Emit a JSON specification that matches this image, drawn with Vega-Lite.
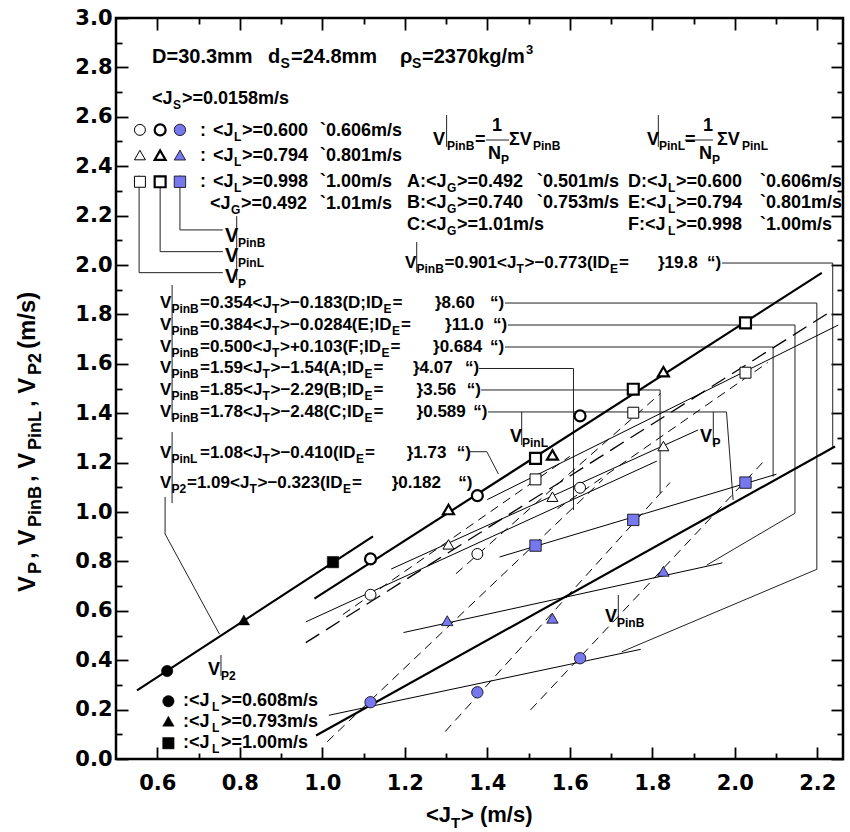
{
"$schema": "https://vega.github.io/schema/vega-lite/v6.json",
"width": 727, "height": 741, "autosize": {"type": "none"},
"padding": {"left": 116, "top": 18, "right": 7, "bottom": 73},
"background": "white",
"config": {"view": {"stroke": "black", "strokeWidth": 2.5}, "font": "Liberation Sans"},
"datasets": {
"pts": [
{"k":"P2","s":"circle","x":0.624,"y":0.356},{"k":"P2","s":"triangle","x":0.810,"y":0.563},{"k":"P2","s":"square","x":1.026,"y":0.797},
{"k":"P2","s":"circle","x":0.627,"y":0.234},{"k":"P2","s":"triangle","x":0.627,"y":0.153},{"k":"P2","s":"square","x":0.627,"y":0.064},
{"k":"PinL","s":"circle","x":1.117,"y":0.810},{"k":"PinL","s":"circle","x":1.376,"y":1.066},{"k":"PinL","s":"circle","x":1.625,"y":1.389},
{"k":"PinL","s":"triangle","x":1.306,"y":1.010},{"k":"PinL","s":"triangle","x":1.558,"y":1.231},{"k":"PinL","s":"triangle","x":1.827,"y":1.568},
{"k":"PinL","s":"square","x":1.517,"y":1.217},{"k":"PinL","s":"square","x":1.754,"y":1.497},{"k":"PinL","s":"square","x":2.026,"y":1.766},
{"k":"PinL","s":"circle","x":0.607,"y":2.547},{"k":"PinL","s":"triangle","x":0.607,"y":2.445},{"k":"PinL","s":"square","x":0.607,"y":2.337},
{"k":"P","s":"circle","x":1.117,"y":0.665},{"k":"P","s":"circle","x":1.376,"y":0.830},{"k":"P","s":"circle","x":1.625,"y":1.098},
{"k":"P","s":"triangle","x":1.306,"y":0.869},{"k":"P","s":"triangle","x":1.558,"y":1.062},{"k":"P","s":"triangle","x":1.827,"y":1.267},
{"k":"P","s":"square","x":1.517,"y":1.132},{"k":"P","s":"square","x":1.754,"y":1.402},{"k":"P","s":"square","x":2.026,"y":1.564},
{"k":"P","s":"circle","x":0.558,"y":2.547},{"k":"P","s":"triangle","x":0.558,"y":2.445},{"k":"P","s":"square","x":0.558,"y":2.337},
{"k":"PinB","s":"circle","x":1.117,"y":0.230},{"k":"PinB","s":"circle","x":1.376,"y":0.270},{"k":"PinB","s":"circle","x":1.625,"y":0.408},
{"k":"PinB","s":"triangle","x":1.303,"y":0.560},{"k":"PinB","s":"triangle","x":1.558,"y":0.570},{"k":"PinB","s":"triangle","x":1.827,"y":0.760},
{"k":"PinB","s":"square","x":1.517,"y":0.864},{"k":"PinB","s":"square","x":1.754,"y":0.968},{"k":"PinB","s":"square","x":2.026,"y":1.119},
{"k":"PinB","s":"circle","x":0.655,"y":2.547},{"k":"PinB","s":"triangle","x":0.655,"y":2.445},{"k":"PinB","s":"square","x":0.655,"y":2.337}
],
"lines": [
{"id":"P2","k":"thick","o":0,"x":0.551,"y":0.278},{"id":"P2","k":"thick","o":1,"x":1.123,"y":0.901},
{"id":"PinL","k":"thick","o":0,"x":0.981,"y":0.649},{"id":"PinL","k":"thick","o":1,"x":2.211,"y":1.968},
{"id":"PinB","k":"thick","o":0,"x":0.985,"y":0.095},{"id":"PinB","k":"thick","o":1,"x":2.243,"y":1.265},
{"id":"A","k":"dash","o":0,"x":1.012,"y":0.07},{"id":"A","k":"dash","o":1,"x":1.681,"y":1.133},
{"id":"B","k":"dash","o":0,"x":1.298,"y":0.111},{"id":"B","k":"dash","o":1,"x":1.843,"y":1.119},
{"id":"C","k":"dash","o":0,"x":1.505,"y":0.199},{"id":"C","k":"dash","o":1,"x":2.068,"y":1.201},
{"id":"PG1","k":"dash","o":0,"x":1.05,"y":0.585},{"id":"PG1","k":"dash","o":1,"x":1.60,"y":1.225},
{"id":"PG2","k":"dash","o":0,"x":1.324,"y":0.750},{"id":"PG2","k":"dash","o":1,"x":1.82,"y":1.480},
{"id":"PG3","k":"dash","o":0,"x":1.57,"y":1.013},{"id":"PG3","k":"dash","o":1,"x":2.08,"y":1.605},
{"id":"LP","k":"ldash","o":0,"x":0.960,"y":0.471},{"id":"LP","k":"ldash","o":1,"x":2.231,"y":1.81},
{"id":"D","k":"thin","o":0,"x":1.016,"y":0.177},{"id":"D","k":"thin","o":1,"x":1.772,"y":0.444},
{"id":"E","k":"thin","o":0,"x":1.197,"y":0.512},{"id":"E","k":"thin","o":1,"x":1.970,"y":0.794},
{"id":"F","k":"thin","o":0,"x":1.43,"y":0.818},{"id":"F","k":"thin","o":1,"x":2.101,"y":1.153},
{"id":"Pt","k":"thin","o":0,"x":1.167,"y":0.769},{"id":"Pt","k":"thin","o":1,"x":1.911,"y":1.332},
{"id":"Pc","k":"thin","o":0,"x":0.960,"y":0.555},{"id":"Pc","k":"thin","o":1,"x":1.811,"y":1.206},
{"id":"Ps","k":"thin","o":0,"x":1.40,"y":1.05},{"id":"Ps","k":"thin","o":1,"x":2.251,"y":1.757},
{"id":"L0","k":"lead","o":0,"x":1.969,"y":2.008},{"id":"L0","k":"lead","o":1,"x":2.2375,"y":2.008},{"id":"L0","k":"lead","o":2,"x":2.2375,"y":1.262},
{"id":"L1","k":"lead","o":0,"x":1.443,"y":1.846},{"id":"L1","k":"lead","o":1,"x":2.199,"y":1.846},{"id":"L1","k":"lead","o":2,"x":2.199,"y":0.768},{"id":"L1","k":"lead","o":3,"x":1.726,"y":0.434},
{"id":"L2","k":"lead","o":0,"x":1.450,"y":1.757},{"id":"L2","k":"lead","o":1,"x":2.146,"y":1.757},{"id":"L2","k":"lead","o":2,"x":2.146,"y":0.995},{"id":"L2","k":"lead","o":3,"x":1.932,"y":0.785},
{"id":"L3","k":"lead","o":0,"x":1.443,"y":1.668},{"id":"L3","k":"lead","o":1,"x":2.093,"y":1.668},{"id":"L3","k":"lead","o":2,"x":2.093,"y":1.143},
{"id":"L4","k":"lead","o":0,"x":1.380,"y":1.581},{"id":"L4","k":"lead","o":1,"x":1.609,"y":1.581},{"id":"L4","k":"lead","o":2,"x":1.609,"y":1.008},
{"id":"L5","k":"lead","o":0,"x":1.385,"y":1.494},{"id":"L5","k":"lead","o":1,"x":1.819,"y":1.494},{"id":"L5","k":"lead","o":2,"x":1.819,"y":1.076},
{"id":"L6","k":"lead","o":0,"x":1.402,"y":1.405},{"id":"L6","k":"lead","o":1,"x":1.980,"y":1.405},{"id":"L6","k":"lead","o":2,"x":1.996,"y":1.049},
{"id":"L7","k":"lead","o":0,"x":1.358,"y":1.244},{"id":"L7","k":"lead","o":1,"x":1.399,"y":1.244},{"id":"L7","k":"lead","o":2,"x":1.427,"y":1.154},
{"id":"L8","k":"lead","o":0,"x":0.619,"y":1.061},{"id":"L8","k":"lead","o":1,"x":0.619,"y":0.911},{"id":"L8","k":"lead","o":2,"x":0.751,"y":0.505},
{"id":"G1","k":"lead","o":0,"x":0.556,"y":2.362},{"id":"G1","k":"lead","o":1,"x":0.556,"y":1.969},{"id":"G1","k":"lead","o":2,"x":0.759,"y":1.969},
{"id":"G2","k":"lead","o":0,"x":0.607,"y":2.362},{"id":"G2","k":"lead","o":1,"x":0.607,"y":2.054},{"id":"G2","k":"lead","o":2,"x":0.759,"y":2.054},
{"id":"G3","k":"lead","o":0,"x":0.655,"y":2.362},{"id":"G3","k":"lead","o":1,"x":0.655,"y":2.142},{"id":"G3","k":"lead","o":2,"x":0.759,"y":2.142},
{"id":"B1","k":"lead","o":0,"x":0.636,"y":1.919},{"id":"B1","k":"lead","o":1,"x":0.636,"y":1.372},
{"id":"B2","k":"lead","o":0,"x":0.636,"y":1.324},{"id":"B2","k":"lead","o":1,"x":0.636,"y":1.036},
{"id":"B3","k":"lead","o":0,"x":1.3015,"y":2.607},{"id":"B3","k":"lead","o":1,"x":1.3015,"y":2.478},
{"id":"B4","k":"lead","o":0,"x":1.8147,"y":2.607},{"id":"B4","k":"lead","o":1,"x":1.8147,"y":2.478},
{"id":"B5","k":"lead","o":0,"x":1.229,"y":2.093},{"id":"B5","k":"lead","o":1,"x":1.229,"y":1.972},
{"id":"B6","k":"lead","o":0,"x":0.7926,"y":2.198},{"id":"B6","k":"lead","o":1,"x":0.7926,"y":1.939},
{"id":"B7","k":"lead","o":0,"x":1.7177,"y":0.664},{"id":"B7","k":"lead","o":1,"x":1.7177,"y":0.538},
{"id":"B8","k":"lead","o":0,"x":1.4835,"y":1.405},{"id":"B8","k":"lead","o":1,"x":1.4835,"y":1.271},
{"id":"B9","k":"lead","o":0,"x":1.948,"y":1.405},{"id":"B9","k":"lead","o":1,"x":1.948,"y":1.271},
{"id":"B10","k":"lead","o":0,"x":0.7545,"y":0.421},{"id":"B10","k":"lead","o":1,"x":0.7545,"y":0.336},
{"id":"F1","k":"lead","o":0,"x":1.397,"y":2.506},{"id":"F1","k":"lead","o":1,"x":1.453,"y":2.506},
{"id":"F2","k":"lead","o":0,"x":1.879,"y":2.506},{"id":"F2","k":"lead","o":1,"x":1.947,"y":2.506}
],
"txt": [
{"x":0.5873,"y":2.818,"t":"D=30.3mm","r":"h"},{"x":0.8685,"y":2.818,"t":"d","r":"h"},{"x":0.8988,"y":2.818,"t":"S","r":"hs"},{"x":0.9242,"y":2.818,"t":"=24.8mm","r":"h"},{"x":1.1885,"y":2.818,"t":"ρ","r":"h"},{"x":1.2176,"y":2.818,"t":"S","r":"hs"},{"x":1.2418,"y":2.818,"t":"=2370kg/m","r":"h"},{"x":1.4939,"y":2.818,"t":"3","r":"hu"},
{"x":0.5873,"y":2.652,"t":"<J","r":"m"},{"x":0.6382,"y":2.652,"t":"S","r":"s"},{"x":0.66,"y":2.652,"t":">=0.0158m/s","r":"m"},
{"x":0.7036,"y":2.522,"t":":","r":"m"},{"x":0.7352,"y":2.522,"t":"<J","r":"m"},{"x":0.786,"y":2.522,"t":"L","r":"s"},{"x":0.8055,"y":2.522,"t":">=0.600","r":"m"},{"x":0.9945,"y":2.522,"t":"`0.606m/s","r":"m"},
{"x":0.7036,"y":2.421,"t":":","r":"m"},{"x":0.7352,"y":2.421,"t":"<J","r":"m"},{"x":0.786,"y":2.421,"t":"L","r":"s"},{"x":0.8055,"y":2.421,"t":">=0.794","r":"m"},{"x":0.9945,"y":2.421,"t":"`0.801m/s","r":"m"},
{"x":0.7036,"y":2.316,"t":":","r":"m"},{"x":0.7352,"y":2.316,"t":"<J","r":"m"},{"x":0.786,"y":2.316,"t":"L","r":"s"},{"x":0.8055,"y":2.316,"t":">=0.998","r":"m"},{"x":0.9945,"y":2.316,"t":"`1.00m/s","r":"m"},
{"x":0.7279,"y":2.227,"t":"<J","r":"m"},{"x":0.7788,"y":2.227,"t":"G","r":"s"},{"x":0.803,"y":2.227,"t":">=0.492","r":"m"},{"x":0.9945,"y":2.227,"t":"`1.01m/s","r":"m"},
{"x":1.2055,"y":2.316,"t":"A:<J","r":"m"},{"x":1.3024,"y":2.316,"t":"G","r":"s"},{"x":1.3267,"y":2.316,"t":">=0.492","r":"m"},{"x":1.5206,"y":2.316,"t":"`0.501m/s","r":"m"},
{"x":1.7412,"y":2.316,"t":"D:<J","r":"m"},{"x":1.838,"y":2.316,"t":"L","r":"s"},{"x":1.8576,"y":2.316,"t":">=0.600","r":"m"},{"x":2.0612,"y":2.316,"t":"`0.606m/s","r":"m"},
{"x":1.2055,"y":2.231,"t":"B:<J","r":"m"},{"x":1.3024,"y":2.231,"t":"G","r":"s"},{"x":1.3267,"y":2.231,"t":">=0.740","r":"m"},{"x":1.5206,"y":2.231,"t":"`0.753m/s","r":"m"},
{"x":1.7412,"y":2.231,"t":"E:<J","r":"m"},{"x":1.838,"y":2.231,"t":"L","r":"s"},{"x":1.8576,"y":2.231,"t":">=0.794","r":"m"},{"x":2.0612,"y":2.231,"t":"`0.801m/s","r":"m"},
{"x":1.2055,"y":2.142,"t":"C:<J","r":"m"},{"x":1.3024,"y":2.142,"t":"G","r":"s"},{"x":1.3267,"y":2.142,"t":">=1.01m/s","r":"m"},
{"x":1.7412,"y":2.142,"t":"F:<J","r":"m"},{"x":1.838,"y":2.142,"t":"L","r":"s"},{"x":1.8576,"y":2.142,"t":">=0.998","r":"m"},{"x":2.0612,"y":2.142,"t":"`1.00m/s","r":"m"},
{"x":1.2685,"y":2.486,"t":"V","r":"m"},{"x":1.3024,"y":2.486,"t":"PinB","r":"s"},{"x":1.3703,"y":2.486,"t":"=","r":"m"},{"x":1.4115,"y":2.543,"t":"1","r":"m"},{"x":1.4018,"y":2.429,"t":"N","r":"m"},{"x":1.4333,"y":2.429,"t":"P","r":"s"},{"x":1.4527,"y":2.486,"t":"ΣV","r":"m"},{"x":1.5109,"y":2.486,"t":"PinB","r":"s"},
{"x":1.7873,"y":2.486,"t":"V","r":"m"},{"x":1.8164,"y":2.486,"t":"PinL","r":"s"},{"x":1.8794,"y":2.486,"t":"=","r":"m"},{"x":1.9230,"y":2.543,"t":"1","r":"m"},{"x":1.9133,"y":2.429,"t":"N","r":"m"},{"x":1.9448,"y":2.429,"t":"P","r":"s"},{"x":1.9570,"y":2.486,"t":"ΣV","r":"m"},{"x":2.0176,"y":2.486,"t":"PinL","r":"s"},
{"x":1.2006,"y":1.988,"t":"V","r":"e"},{"x":1.2285,"y":1.988,"t":"PinB","r":"s"},{"x":1.2964,"y":1.988,"t":"=0.901<J","r":"e"},{"x":1.4709,"y":1.988,"t":"T","r":"s"},{"x":1.4903,"y":1.988,"t":">−0.773(ID","r":"e"},{"x":1.6976,"y":1.988,"t":"E","r":"s"},{"x":1.7194,"y":1.988,"t":"=","r":"e"},{"x":1.8139,"y":1.988,"t":"}19.8","r":"e"},{"x":1.9327,"y":1.988,"t":"“)","r":"e"},
{"x":0.6067,"y":1.8247,"t":"V","r":"e"},{"x":0.6343,"y":1.8247,"t":"PinB","r":"s"},{"x":0.7036,"y":1.8247,"t":"=0.354<J","r":"e"},{"x":0.8782,"y":1.8247,"t":"T","r":"s"},{"x":0.8976,"y":1.8247,"t":">−0.183(D;ID","r":"e"},{"x":1.1485,"y":1.8247,"t":"E","r":"s"},{"x":1.1703,"y":1.8247,"t":"=","r":"e"},{"x":1.2733,"y":1.8247,"t":"}8.60","r":"e"},{"x":1.4067,"y":1.8247,"t":"“)","r":"e"},
{"x":0.6067,"y":1.7368,"t":"V","r":"e"},{"x":0.6343,"y":1.7368,"t":"PinB","r":"s"},{"x":0.7036,"y":1.7368,"t":"=0.384<J","r":"e"},{"x":0.8782,"y":1.7368,"t":"T","r":"s"},{"x":0.8976,"y":1.7368,"t":">−0.0284(E;ID","r":"e"},{"x":1.1691,"y":1.7368,"t":"E","r":"s"},{"x":1.1909,"y":1.7368,"t":"=","r":"e"},{"x":1.2976,"y":1.7368,"t":"}11.0","r":"e"},{"x":1.4139,"y":1.7368,"t":"“)","r":"e"},
{"x":0.6067,"y":1.649,"t":"V","r":"e"},{"x":0.6343,"y":1.649,"t":"PinB","r":"s"},{"x":0.7036,"y":1.649,"t":"=0.500<J","r":"e"},{"x":0.8782,"y":1.649,"t":"T","r":"s"},{"x":0.8976,"y":1.649,"t":">+0.103(F;ID","r":"e"},{"x":1.1436,"y":1.649,"t":"E","r":"s"},{"x":1.1655,"y":1.649,"t":"=","r":"e"},{"x":1.2685,"y":1.649,"t":"}0.684","r":"e"},{"x":1.4067,"y":1.649,"t":"“)","r":"e"},
{"x":0.6067,"y":1.5615,"t":"V","r":"e"},{"x":0.6343,"y":1.5615,"t":"PinB","r":"s"},{"x":0.7036,"y":1.5615,"t":"=1.59<J","r":"e"},{"x":0.8552,"y":1.5615,"t":"T","r":"s"},{"x":0.8745,"y":1.5615,"t":">−1.54(A;ID","r":"e"},{"x":1.1024,"y":1.5615,"t":"E","r":"s"},{"x":1.1242,"y":1.5615,"t":"=","r":"e"},{"x":1.22,"y":1.5615,"t":"}4.07","r":"e"},{"x":1.3461,"y":1.5615,"t":"“)","r":"e"},
{"x":0.6067,"y":1.4737,"t":"V","r":"e"},{"x":0.6343,"y":1.4737,"t":"PinB","r":"s"},{"x":0.7036,"y":1.4737,"t":"=1.85<J","r":"e"},{"x":0.8552,"y":1.4737,"t":"T","r":"s"},{"x":0.8745,"y":1.4737,"t":">−2.29(B;ID","r":"e"},{"x":1.1024,"y":1.4737,"t":"E","r":"s"},{"x":1.1242,"y":1.4737,"t":"=","r":"e"},{"x":1.2287,"y":1.4737,"t":"}3.56","r":"e"},{"x":1.3502,"y":1.4737,"t":"“)","r":"e"},
{"x":0.6067,"y":1.3858,"t":"V","r":"e"},{"x":0.6343,"y":1.3858,"t":"PinB","r":"s"},{"x":0.7036,"y":1.3858,"t":"=1.78<J","r":"e"},{"x":0.8552,"y":1.3858,"t":"T","r":"s"},{"x":0.8745,"y":1.3858,"t":">−2.48(C;ID","r":"e"},{"x":1.1024,"y":1.3858,"t":"E","r":"s"},{"x":1.1242,"y":1.3858,"t":"=","r":"e"},{"x":1.2287,"y":1.3858,"t":"}0.589","r":"e"},{"x":1.3662,"y":1.3858,"t":"“)","r":"e"},
{"x":0.6067,"y":1.2174,"t":"V","r":"e"},{"x":0.6343,"y":1.2174,"t":"PinL","r":"s"},{"x":0.7036,"y":1.2174,"t":"=1.08<J","r":"e"},{"x":0.8552,"y":1.2174,"t":"T","r":"s"},{"x":0.8745,"y":1.2174,"t":">−0.410(ID","r":"e"},{"x":1.0818,"y":1.2174,"t":"E","r":"s"},{"x":1.1036,"y":1.2174,"t":"=","r":"e"},{"x":1.2047,"y":1.2174,"t":"}1.73","r":"e"},{"x":1.3259,"y":1.2174,"t":"“)","r":"e"},
{"x":0.6067,"y":1.096,"t":"V","r":"e"},{"x":0.6343,"y":1.096,"t":"P2","r":"s"},{"x":0.6721,"y":1.096,"t":"=1.09<J","r":"e"},{"x":0.8236,"y":1.096,"t":"T","r":"s"},{"x":0.843,"y":1.096,"t":">−0.323(ID","r":"e"},{"x":1.0503,"y":1.096,"t":"E","r":"s"},{"x":1.0721,"y":1.096,"t":"=","r":"e"},{"x":1.1684,"y":1.096,"t":"}0.182","r":"e"},{"x":1.3299,"y":1.096,"t":"“)","r":"e"},
{"x":0.7642,"y":2.093,"t":"V","r":"h"},{"x":0.7958,"y":2.093,"t":"PinB","r":"s"},
{"x":0.7642,"y":2.012,"t":"V","r":"h"},{"x":0.7958,"y":2.012,"t":"PinL","r":"s"},
{"x":0.7642,"y":1.927,"t":"V","r":"h"},{"x":0.7958,"y":1.927,"t":"P","r":"s"},
{"x":1.6855,"y":0.5547,"t":"V","r":"m"},{"x":1.7145,"y":0.5547,"t":"PinB","r":"s"},
{"x":1.4552,"y":1.2846,"t":"V","r":"m"},{"x":1.4842,"y":1.2846,"t":"PinL","r":"s"},
{"x":1.9158,"y":1.2846,"t":"V","r":"m"},{"x":1.9461,"y":1.2846,"t":"P","r":"s"},
{"x":0.723,"y":0.342,"t":"V","r":"m"},{"x":0.7545,"y":0.342,"t":"P2","r":"s"},
{"x":0.6624,"y":0.2146,"t":":<J","r":"m"},{"x":0.7327,"y":0.2146,"t":"L","r":"s"},{"x":0.7545,"y":0.2146,"t":">=0.608m/s","r":"m"},
{"x":0.6624,"y":0.1296,"t":":<J","r":"m"},{"x":0.7327,"y":0.1296,"t":"L","r":"s"},{"x":0.7545,"y":0.1296,"t":">=0.793m/s","r":"m"},
{"x":0.6624,"y":0.0445,"t":":<J","r":"m"},{"x":0.7327,"y":0.0445,"t":"L","r":"s"},{"x":0.7545,"y":0.0445,"t":">=1.00m/s","r":"m"},
{"x":1.2515,"y":-0.2551,"t":"<J","r":"ax"},{"x":1.3121,"y":-0.2551,"t":"T","r":"axs"},{"x":1.3364,"y":-0.2551,"t":"> (m/s)","r":"ax"},
{"x":0.3036,"y":0.676,"t":"V","r":"yt"},{"x":0.3182,"y":0.749,"t":"P","r":"yts"},{"x":0.3036,"y":0.810,"t":", V","r":"yt"},{"x":0.3182,"y":0.939,"t":"PinB","r":"yts"},{"x":0.3036,"y":1.121,"t":", V","r":"yt"},{"x":0.3182,"y":1.251,"t":"PinL","r":"yts"},{"x":0.3036,"y":1.425,"t":", V","r":"yt"},{"x":0.3182,"y":1.555,"t":"P2","r":"yts"},{"x":0.3036,"y":1.660,"t":" (m/s)","r":"yt"}
]
},
"encoding": {
"x": {"field":"x","type":"quantitative","scale":{"domain":[0.5,2.2624],"nice":false,"zero":false},"axis":null},
"y": {"field":"y","type":"quantitative","scale":{"domain":[0,3],"nice":false,"zero":false},"axis":null}
},
"resolve": {"axis": {"x":"independent","y":"independent"}},
"layer": [
{"data":{"name":"lines"},"transform":[{"filter":"datum.k=='lead'"}],
 "mark":{"type":"line","stroke":"#222","strokeWidth":1},
 "encoding":{
  "x":{"field":"x","type":"quantitative","scale":{"domain":[0.5,2.2624],"nice":false,"zero":false},
   "axis":{"orient":"bottom","values":[0.6,0.7,0.8,0.9,1.0,1.1,1.2,1.3,1.4,1.5,1.6,1.7,1.8,1.9,2.0,2.1,2.2],
    "tickSize":{"condition":{"test":"round(datum.value*10)%2==0","value":-12},"value":-6},
    "labelExpr":"round(datum.value*10)%2==0 ? format(datum.value,'.1f') : ''",
    "labelPadding":25,"tickWidth":1.8,"tickColor":"black","domain":false,"grid":false,"title":null,
    "labelFont":"DejaVu Sans","labelFontWeight":"bold","labelFontSize":21,"labelColor":"black","labelFlush":false,"labelOverlap":false}},
  "y":{"field":"y","type":"quantitative","scale":{"domain":[0,3],"nice":false,"zero":false},
   "axis":{"orient":"left","values":[0,0.1,0.2,0.3,0.4,0.5,0.6,0.7,0.8,0.9,1.0,1.1,1.2,1.3,1.4,1.5,1.6,1.7,1.8,1.9,2.0,2.1,2.2,2.3,2.4,2.5,2.6,2.7,2.8,2.9,3.0],
    "tickSize":{"condition":{"test":"round(datum.value*10)%2==0","value":-12},"value":-6},
    "labelExpr":"round(datum.value*10)%2==0 ? format(datum.value,'.1f') : ''",
    "labelPadding":16,"tickWidth":1.8,"tickColor":"black","domain":false,"grid":false,"title":null,
    "labelFont":"DejaVu Sans","labelFontWeight":"bold","labelFontSize":21,"labelColor":"black","labelFlush":false,"labelOverlap":false}},
  "detail":{"field":"id"},"order":{"field":"o","type":"quantitative"}}},
{"data":{"name":"lines"},"transform":[{"filter":"datum.k=='thin'"}],
 "mark":{"type":"line","stroke":"black","strokeWidth":1},
 "encoding":{
  "x":{"field":"x","type":"quantitative","scale":{"domain":[0.5,2.2624],"nice":false,"zero":false},
   "axis":{"orient":"top","values":[0.6,0.7,0.8,0.9,1.0,1.1,1.2,1.3,1.4,1.5,1.6,1.7,1.8,1.9,2.0,2.1,2.2],
    "tickSize":{"condition":{"test":"round(datum.value*10)%2==0","value":-12},"value":-6},
    "labels":false,"tickWidth":1.8,"tickColor":"black","domain":false,"grid":false,"title":null}},
  "y":{"field":"y","type":"quantitative","scale":{"domain":[0,3],"nice":false,"zero":false},
   "axis":{"orient":"right","values":[0,0.1,0.2,0.3,0.4,0.5,0.6,0.7,0.8,0.9,1.0,1.1,1.2,1.3,1.4,1.5,1.6,1.7,1.8,1.9,2.0,2.1,2.2,2.3,2.4,2.5,2.6,2.7,2.8,2.9,3.0],
    "tickSize":{"condition":{"test":"round(datum.value*10)%2==0","value":-12},"value":-6},
    "labels":false,"tickWidth":1.8,"tickColor":"black","domain":false,"grid":false,"title":null}},
  "detail":{"field":"id"},"order":{"field":"o","type":"quantitative"}}},
{"data":{"name":"lines"},"transform":[{"filter":"datum.k=='dash'"}],
 "mark":{"type":"line","stroke":"black","strokeWidth":1,"strokeDash":[9,6]},
 "encoding":{"detail":{"field":"id"},"order":{"field":"o","type":"quantitative"}}},
{"data":{"name":"lines"},"transform":[{"filter":"datum.k=='ldash'"}],
 "mark":{"type":"line","stroke":"black","strokeWidth":1.3,"strokeDash":[16,8]},
 "encoding":{"detail":{"field":"id"},"order":{"field":"o","type":"quantitative"}}},
{"data":{"name":"lines"},"transform":[{"filter":"datum.k=='thick'"}],
 "mark":{"type":"line","stroke":"black","strokeWidth":2.2},
 "encoding":{"detail":{"field":"id"},"order":{"field":"o","type":"quantitative"}}},
{"data":{"name":"pts"},"transform":[{"filter":"datum.k=='P'"}],
 "mark":{"type":"point","filled":true,"fill":"white","stroke":"black","strokeWidth":1,"opacity":1,"size":120},
 "encoding":{"shape":{"field":"s","type":"nominal","scale":{"domain":["circle","triangle","square"],"range":["circle","triangle-up","square"]},"legend":null}}},
{"data":{"name":"pts"},"transform":[{"filter":"datum.k=='PinL'"}],
 "mark":{"type":"point","filled":true,"fill":"white","stroke":"black","strokeWidth":2.2,"opacity":1,"size":120},
 "encoding":{"shape":{"field":"s","type":"nominal","scale":{"domain":["circle","triangle","square"],"range":["circle","triangle-up","square"]},"legend":null}}},
{"data":{"name":"pts"},"transform":[{"filter":"datum.k=='PinB'"}],
 "mark":{"type":"point","filled":true,"fill":"#7777ee","stroke":"black","strokeWidth":0.8,"opacity":1,"size":130},
 "encoding":{"shape":{"field":"s","type":"nominal","scale":{"domain":["circle","triangle","square"],"range":["circle","triangle-up","square"]},"legend":null}}},
{"data":{"name":"pts"},"transform":[{"filter":"datum.k=='P2'"}],
 "mark":{"type":"point","filled":true,"fill":"black","stroke":"black","strokeWidth":0.5,"opacity":1,"size":130},
 "encoding":{"shape":{"field":"s","type":"nominal","scale":{"domain":["circle","triangle","square"],"range":["circle","triangle-up","square"]},"legend":null}}},
{"data":{"name":"txt"},"transform":[{"filter":"datum.r=='h'"}],
 "mark":{"type":"text","align":"left","baseline":"alphabetic","font":"Liberation Sans","fontWeight":"bold","fontSize":20,"color":"black"},
 "encoding":{"text":{"field":"t"}}},
{"data":{"name":"txt"},"transform":[{"filter":"datum.r=='hs'"}],
 "mark":{"type":"text","align":"left","baseline":"alphabetic","font":"Liberation Sans","fontWeight":"bold","fontSize":14,"dy":5,"color":"black"},
 "encoding":{"text":{"field":"t"}}},
{"data":{"name":"txt"},"transform":[{"filter":"datum.r=='hu'"}],
 "mark":{"type":"text","align":"left","baseline":"alphabetic","font":"Liberation Sans","fontWeight":"bold","fontSize":13,"dy":-9,"color":"black"},
 "encoding":{"text":{"field":"t"}}},
{"data":{"name":"txt"},"transform":[{"filter":"datum.r=='m'"}],
 "mark":{"type":"text","align":"left","baseline":"alphabetic","font":"Liberation Sans","fontWeight":"bold","fontSize":18,"color":"black"},
 "encoding":{"text":{"field":"t"}}},
{"data":{"name":"txt"},"transform":[{"filter":"datum.r=='e'"}],
 "mark":{"type":"text","align":"left","baseline":"alphabetic","font":"Liberation Sans","fontWeight":"bold","fontSize":17,"color":"black"},
 "encoding":{"text":{"field":"t"}}},
{"data":{"name":"txt"},"transform":[{"filter":"datum.r=='s'"}],
 "mark":{"type":"text","align":"left","baseline":"alphabetic","font":"Liberation Sans","fontWeight":"bold","fontSize":12,"dy":5,"color":"black"},
 "encoding":{"text":{"field":"t"}}},
{"data":{"name":"txt"},"transform":[{"filter":"datum.r=='ax'"}],
 "mark":{"type":"text","align":"left","baseline":"alphabetic","font":"Liberation Sans","fontWeight":"bold","fontSize":22,"color":"black"},
 "encoding":{"text":{"field":"t"}}},
{"data":{"name":"txt"},"transform":[{"filter":"datum.r=='axs'"}],
 "mark":{"type":"text","align":"left","baseline":"alphabetic","font":"Liberation Sans","fontWeight":"bold","fontSize":15,"dy":6,"color":"black"},
 "encoding":{"text":{"field":"t"}}},
{"data":{"name":"txt"},"transform":[{"filter":"datum.r=='yt'"}],
 "mark":{"type":"text","align":"left","baseline":"alphabetic","angle":270,"font":"Liberation Sans","fontWeight":"bold","fontSize":24,"color":"black"},
 "encoding":{"text":{"field":"t"}}},
{"data":{"name":"txt"},"transform":[{"filter":"datum.r=='yts'"}],
 "mark":{"type":"text","align":"left","baseline":"alphabetic","angle":270,"font":"Liberation Sans","fontWeight":"bold","fontSize":18,"color":"black"},
 "encoding":{"text":{"field":"t"}}}
]
}
